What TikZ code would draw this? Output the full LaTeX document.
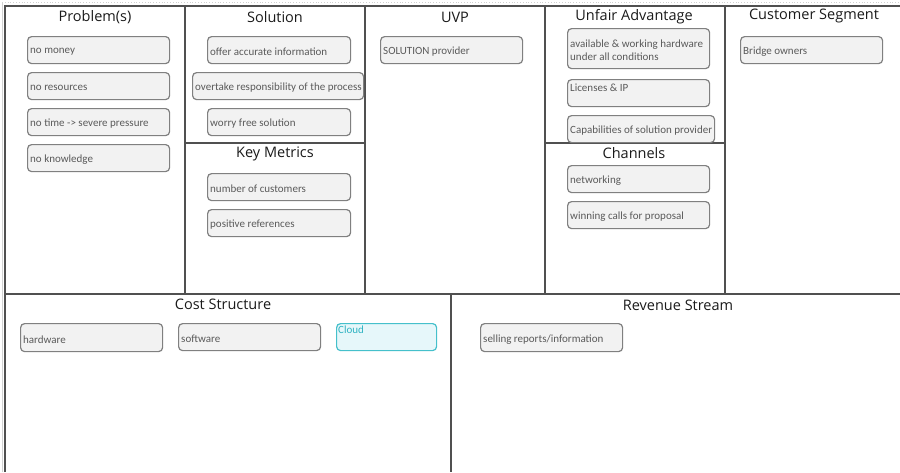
\documentclass[tikz,border=0pt]{standalone}
\usepackage{fontspec}
\setmainfont{Carlito}
\newfontfamily\headfont{Open Sans}
\definecolor{gridline}{HTML}{505050}
\definecolor{boxline}{HTML}{808080}
\definecolor{boxfill}{HTML}{F2F2F2}
\definecolor{boxtext}{HTML}{5A5A5A}
\definecolor{headtext}{HTML}{1A1A1A}
\definecolor{cloudline}{HTML}{45C0CB}
\definecolor{cloudfill}{HTML}{E6F7FA}
\definecolor{cloudtext}{HTML}{2FB3C2}
\tikzset{
  grid/.style={draw=gridline, line width=1.8pt},
  faint/.style={draw=gray!35, line width=0.8pt},
  head/.style={font=\headfont\fontsize{14.5}{16}\selectfont, text=headtext, inner sep=0pt},
  itembox/.style={draw=boxline, fill=boxfill, line width=1.2pt, rounded corners=4pt,
    inner sep=0pt, anchor=north west},
  itemtext/.style={font=\fontsize{11}{13}\selectfont, text=boxtext, inner sep=0pt,
    align=left},
}
% \canvasitem{x}{y}{w}{h}{name}{text}: a card with text at its left, centred vertically
\newcommand\canvasitem[6]{%
  \node[itembox, minimum width=#3pt, minimum height=#4pt] (#5) at (#1,#2) {};
  \node[itemtext, anchor=west] (#5-t) at ([xshift=3pt,yshift=-1.8pt]#5.west) {#6};}
% \canvasitemtop: the same card with its text at the top
\newcommand\canvasitemtop[6]{%
  \node[itembox, minimum width=#3pt, minimum height=#4pt] (#5) at (#1,#2) {};
  \node[itemtext, anchor=north west] (#5-t) at ([xshift=3pt,yshift=-4.5pt]#5.north west) {#6};}
\begin{document}
\begin{tikzpicture}[x=1pt, y=-1pt]
\useasboundingbox (0,0) rectangle (900,472);
% faint frame of the sheet
\draw[faint] (2,3) -- (2,472);
\draw[faint, dotted] (2,2) -- (900,2);
% canvas grid
\draw[grid] (5,472) -- (5,6) -- (900,6);
\draw[grid] (5,294) -- (900,294);
\foreach \cx in {185,365,545,725} \draw[grid] (\cx,6) -- (\cx,294);
\draw[grid] (185,143) -- (365,143);
\draw[grid] (545,143) -- (725,143);
\draw[grid] (451,294) -- (451,472);
% section headings
\node[head] (hProb) at (95,17) {Problem(s)};
\node[head] (hSol) at (275,17) {Solution};
\node[head] (hUVP) at (455,17) {UVP};
\node[head] (hUnf) at (634,17) {Unfair Advantage};
\node[head] (hCust) at (814,16) {Customer Segment};
\node[head] (hKey) at (275,154) {Key Metrics};
\node[head] (hChan) at (634,153) {Channels};
\node[head] (hCost) at (223,304) {Cost Structure};
\node[head] (hRev) at (678,305) {Revenue Stream};
% Problem(s)
\canvasitem{27}{36}{142}{27}{p1}{no money}
\canvasitem{27}{72}{142}{27}{p2}{no resources}
\canvasitem{27}{108}{142}{27}{p3}{no time -> severe pressure}
\canvasitem{27}{144}{142}{27}{p4}{no knowledge}
% Solution
\canvasitem{207}{36}{143}{27}{s1}{offer accurate information}
\canvasitem{192}{72}{171}{27}{s2}{overtake responsibility of the process}
\canvasitem{207}{108}{143}{27}{s3}{worry free solution}
% Key Metrics
\canvasitem{207}{173}{143}{27}{k1}{number of customers}
\canvasitem{207}{209}{143}{27}{k2}{positive references}
% UVP
\canvasitem{380}{36}{142}{27}{u1}{SOLUTION provider}
% Unfair Advantage
\canvasitem{567}{28}{142}{40}{a1}{available \& working hardware\\under all conditions}
\canvasitemtop{567}{79}{142}{27}{a2}{Licenses \& IP}
\canvasitem{567}{115}{147}{27}{a3}{Capabilities of solution provider}
% Channels
\canvasitem{567}{165}{142}{27}{c1}{networking}
\canvasitem{567}{201}{142}{27}{c2}{winning calls for proposal}
% Customer Segment
\canvasitem{740}{36}{142}{27}{cs1}{Bridge owners}
% Cost Structure
\canvasitem{20}{323}{142}{28}{co1}{hardware}
\canvasitem{178}{323}{142}{27}{co2}{software}
\node[itembox, draw=cloudline, fill=cloudfill, minimum width=100pt, minimum height=27pt] (co3) at (336,323) {};
\node[itemtext, text=cloudtext, anchor=north west] (co3-t) at ([xshift=2pt,yshift=-3pt]co3.north west) {Cloud};
% Revenue Stream
\canvasitem{480}{323}{142}{28}{r1}{selling reports/information}
\end{tikzpicture}
\end{document}
